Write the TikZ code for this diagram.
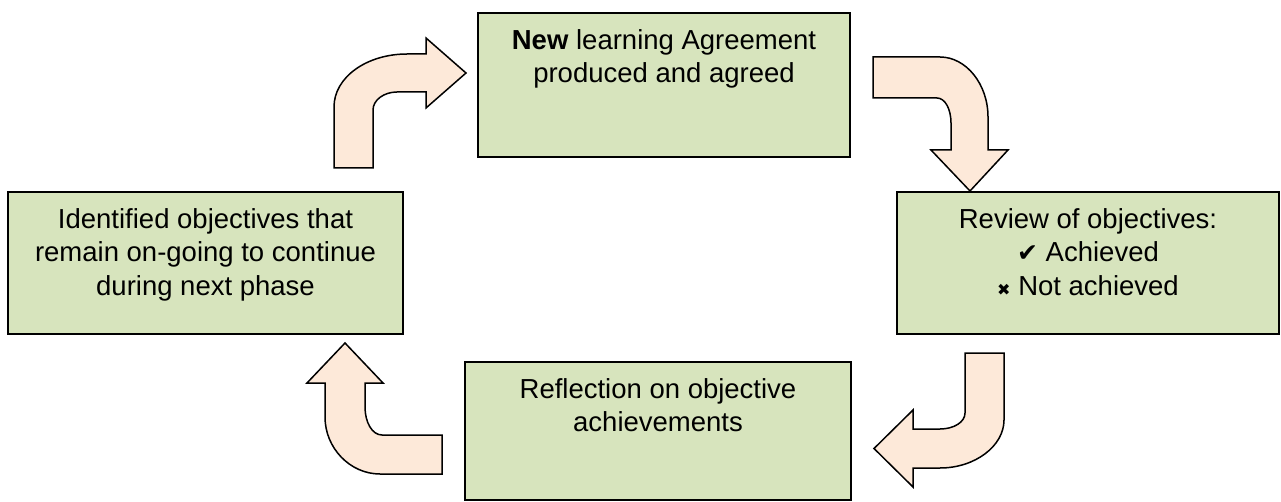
\documentclass[tikz,border=0pt]{standalone}
\usepackage{fontspec}
\setmainfont{Liberation Sans}
\newfontfamily\symfont{DejaVu Sans}
\usetikzlibrary{positioning}
\definecolor{boxgreen}{HTML}{D7E4BD}
\definecolor{arrowpeach}{HTML}{FDE9D9}

\begin{document}
\begin{tikzpicture}[x=1pt, y=-1pt,
    stage/.style={draw=black, line width=1.5pt, fill=boxgreen, inner sep=0pt},
    stagetext/.style={inner sep=0pt, align=center, font=\fontsize{27.5}{33.5}\selectfont},
    turn/.style={draw=black, line width=1.5pt, fill=arrowpeach, line join=miter}]
    \useasboundingbox (0,0) rectangle (1281,502);

    % 四个阶段
    \node[stage, minimum width=372pt, minimum height=144pt] (agree) at (664,85) {};
    \node[stage, minimum width=382pt, minimum height=142pt] (review) at (1088,263) {};
    \node[stage, minimum width=386pt, minimum height=138pt] (reflect) at (658,431) {};
    \node[stage, minimum width=395pt, minimum height=142pt] (ongoing) at (205.5,263) {};

    \node[stagetext, below=17pt of agree.north] (agreetxt)
        {\textbf{New} learning Agreement\\produced and agreed};
    \node[stagetext, below=17pt of review.north] (reviewtxt)
        {Review of objectives:\\{\symfont\fontsize{25}{25}\selectfont ✔} Achieved\\{\symfont\fontsize{16}{16}\selectfont ✖} Not achieved};
    \node[stagetext, below=17pt of reflect.north] (reflecttxt)
        {Reflection on objective\\achievements};
    \node[stagetext, below=17pt of ongoing.north] (ongoingtxt)
        {Identified objectives that\\remain on-going to continue\\during next phase};

    % 弯箭头
    \draw[turn] (334,168) -- (334,107) .. controls (334,77) and (367,54) .. (407,54)
        -- (426,54) -- (426,38) -- (466,73) -- (426,108) -- (426,92) -- (397,92)
        .. controls (384,92) and (373,100) .. (373,110) -- (373,168) -- cycle;
    \draw[turn] (873,57) -- (940,57) .. controls (966,57) and (988,84) .. (988,117)
        -- (988,150) -- (1008,150) -- (970,191) -- (931,150) -- (951,150) -- (951,123)
        .. controls (951,109) and (945,98) .. (937,98) -- (873,98) -- cycle;
    \draw[turn] (965,353) -- (1004,353) -- (1004,420) .. controls (1004,446) and (975,468) .. (940,468)
        -- (913,468) -- (913,487) -- (874,448.5) -- (913,410) -- (913,429) -- (940,429)
        .. controls (954,429) and (965,422) .. (965,413) -- cycle;
    \draw[turn] (442,435) -- (442,474) -- (380,474) .. controls (350,474) and (325,448) .. (325,417)
        -- (325,383) -- (307,383) -- (345,343) -- (383,383) -- (365,383) -- (365,407)
        .. controls (365,422) and (372,435) .. (382,435) -- cycle;
\end{tikzpicture}
\end{document}
